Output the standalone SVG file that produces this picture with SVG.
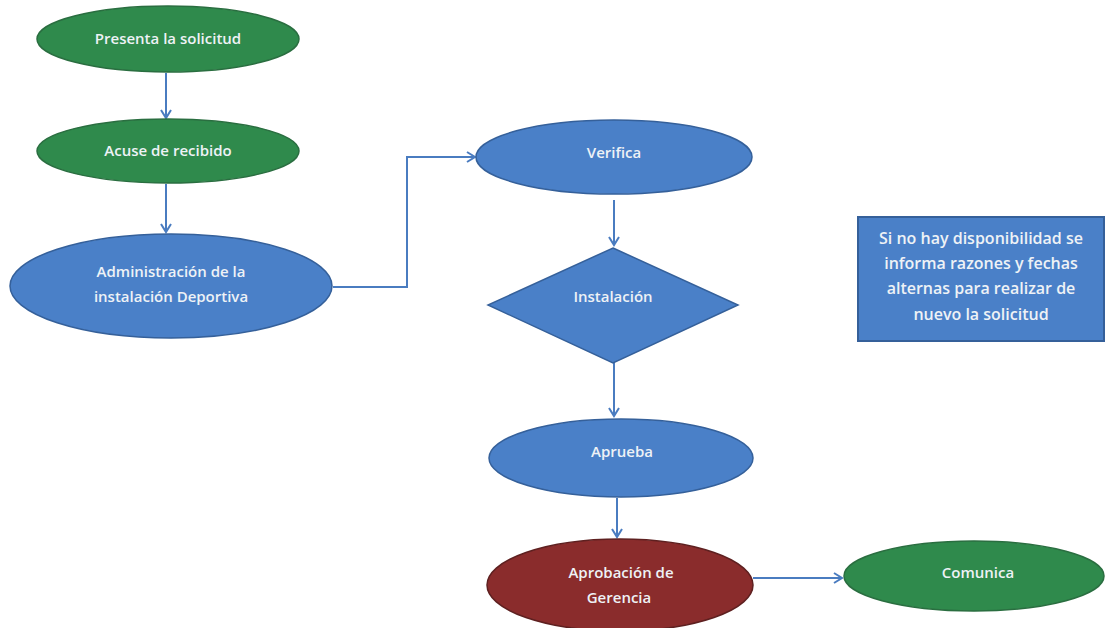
<svg xmlns="http://www.w3.org/2000/svg" width="1105" height="628" viewBox="0 0 1105 628">
<style>
.g{fill:#2f8a4c;stroke:#2a6e40;stroke-width:1.5}
.b{fill:#4a80c8;stroke:#35609a;stroke-width:1.5}
.r{fill:#8a2c2c;stroke:#5e2020;stroke-width:1.5}
.t{font-family:"Open Sans","Liberation Sans",sans-serif;font-size:15px;font-weight:600;fill:#eef2f6;text-anchor:middle}
.n{font-size:16px}
.c{fill:none;stroke:#4a7cc0;stroke-width:2}
</style>
<defs>
<marker id="a" markerWidth="12" markerHeight="12" refX="10" refY="6" orient="auto" markerUnits="userSpaceOnUse">
<path d="M2,1 L10,6 L2,11" fill="none" stroke="#4a7cc0" stroke-width="2"/>
</marker>
</defs>
<rect width="1105" height="628" fill="#ffffff"/>
<g id="connectors">
<line class="c" x1="166" y1="73" x2="166" y2="118" marker-end="url(#a)"/>
<line class="c" x1="166" y1="184" x2="166" y2="232" marker-end="url(#a)"/>
<polyline class="c" points="333,287 407,287 407,157 475,157" marker-end="url(#a)"/>
<line class="c" x1="614" y1="200" x2="614" y2="245" marker-end="url(#a)"/>
<line class="c" x1="614" y1="363" x2="614" y2="416" marker-end="url(#a)"/>
<line class="c" x1="617" y1="498" x2="617" y2="537" marker-end="url(#a)"/>
<line class="c" x1="753" y1="578" x2="842" y2="578" marker-end="url(#a)"/>
</g>
<g id="presenta">
<ellipse class="g" cx="168" cy="39" rx="131" ry="33"/>
<text class="t" x="168" y="44">Presenta la solicitud</text>
</g>
<g id="acuse">
<ellipse class="g" cx="168" cy="151" rx="131" ry="32"/>
<text class="t" x="168" y="156">Acuse de recibido</text>
</g>
<g id="administracion">
<ellipse class="b" cx="171" cy="286" rx="161" ry="52"/>
<text class="t" x="171" y="277">Administración de la</text>
<text class="t" x="171" y="302">instalación Deportiva</text>
</g>
<g id="verifica">
<ellipse class="b" cx="614" cy="157" rx="138" ry="37"/>
<text class="t" x="614" y="158">Verifica</text>
</g>
<g id="instalacion">
<polygon class="b" points="613,248 738,305 613,363 488,305"/>
<text class="t" x="613" y="302">Instalación</text>
</g>
<g id="aprueba">
<ellipse class="b" cx="621" cy="458" rx="132" ry="39"/>
<text class="t" x="622" y="457">Aprueba</text>
</g>
<g id="aprobacion">
<ellipse class="r" cx="620" cy="585" rx="133" ry="46"/>
<text class="t" x="621" y="578">Aprobación de</text>
<text class="t" x="619" y="603">Gerencia</text>
</g>
<g id="comunica">
<ellipse class="g" cx="974" cy="576" rx="130" ry="35"/>
<text class="t" x="978" y="578">Comunica</text>
</g>
<g id="nota">
<rect x="858" y="217" width="246" height="124" fill="#4a80c8" stroke="#35609a" stroke-width="2"/>
<text class="t n" x="981" y="244">Si no hay disponibilidad se</text>
<text class="t n" x="981" y="269">informa razones y fechas</text>
<text class="t n" x="981" y="294">alternas para realizar de</text>
<text class="t n" x="981" y="320">nuevo la solicitud</text>
</g>
</svg>
